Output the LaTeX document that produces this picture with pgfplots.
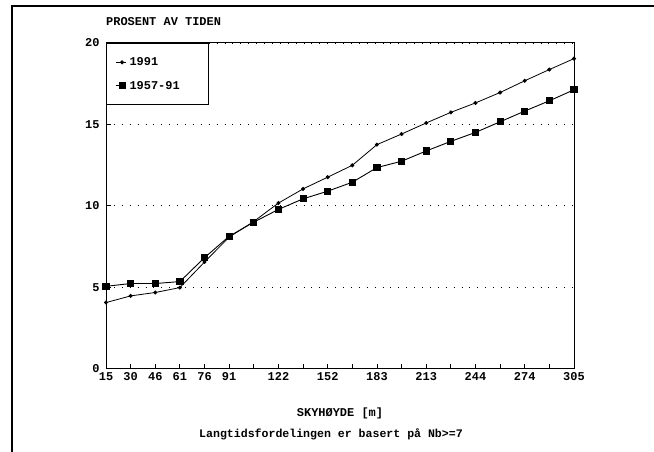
\documentclass[border=0pt]{standalone}
\usepackage{fontspec}
\usepackage{pgfplots}
\pgfplotsset{compat=1.18}
\newfontfamily\dm{Liberation Mono}
\newcommand\lab{\dm\bfseries\fontsize{12}{12}\selectfont}

% skyhoyde i meter (50 ft steg), prosent av tiden
\pgfplotstableread{
x       a     b
15.24   4.06  5.06
30.48   4.47  5.23
45.72   4.68  5.23
60.96   4.98  5.35
76.20   6.55  6.82
91.44   8.08  8.13
106.68  9.04  9.00
121.92  10.17 9.78
137.16  11.04 10.43
152.40  11.76 10.90
167.64  12.49 11.45
182.88  13.76 12.35
198.12  14.41 12.74
213.36  15.09 13.37
228.60  15.74 13.96
243.84  16.32 14.51
259.08  16.96 15.16
274.32  17.68 15.82
289.56  18.37 16.45
304.80  19.04 17.13
}\sky

\begin{document}
\begin{tikzpicture}
\path[use as bounding box] (0,0) rectangle (654bp,452bp);
\draw[line width=2bp] (12bp,-20bp) -- (12bp,446bp) -- (690bp,446bp);
\begin{axis}[
  at={(106bp,83.3bp)}, anchor=south west,
  scale only axis, width=468bp, height=325.7bp,
  xmin=15.24, xmax=304.8, ymin=0, ymax=20,
  xtick=data,
  xticklabels={15,30,46,61,76,91,,122,,152,,183,,213,,244,,274,,305},
  ytick={0,5,10,15,20},
  tick pos=left, tick align=inside, major tick length=5bp,
  ymajorgrids,
  grid style={black, line width=0.9bp, dash pattern=on 0.9bp off 7bp},
  axis line style={line width=1bp},
  tick style={black, line width=0.8bp},
  tick label style={font=\lab},
  /pgf/number format/assume math mode=true,
  yticklabel style={xshift=-3bp},
  xlabel={SKYHØYDE [m]},
  xlabel style={font=\lab, at={(axis description cs:0.5,0)}, anchor=center, yshift=-45bp},
  title={PROSENT AV TIDEN},
  title style={font=\lab, at={(axis description cs:0,1)}, anchor=west, yshift=15.3bp, inner sep=0pt},
  clip=false,
  legend cell align=left,
  legend image code/.code={\draw[#1, mark repeat=2, mark phase=2]
    plot coordinates {(0bp,0bp) (6bp,0bp) (10bp,0bp)};},
  legend style={at={(0,1)}, anchor=north west, draw=black, line width=1.2bp,
    inner xsep=9bp, inner ysep=14bp, row sep=14bp, column sep=3bp,
    nodes={inner sep=0bp}, font=\lab},
]
\addplot[black, line width=0.8bp, mark=*, mark size=1.6bp] table[x=x, y=a] {\sky};
\addlegendentry{\makebox[70bp][l]{1991}}
\addplot[black, line width=0.9bp, mark=square*, mark size=3.1bp] table[x=x, y=b] {\sky};
\addlegendentry{\makebox[70bp][l]{1957-91}}
\end{axis}
\node[font=\dm\bfseries\fontsize{11.6}{12}\selectfont] at (331bp,18bp)
  {Langtidsfordelingen er basert på Nb>=7};
\end{tikzpicture}
\end{document}
